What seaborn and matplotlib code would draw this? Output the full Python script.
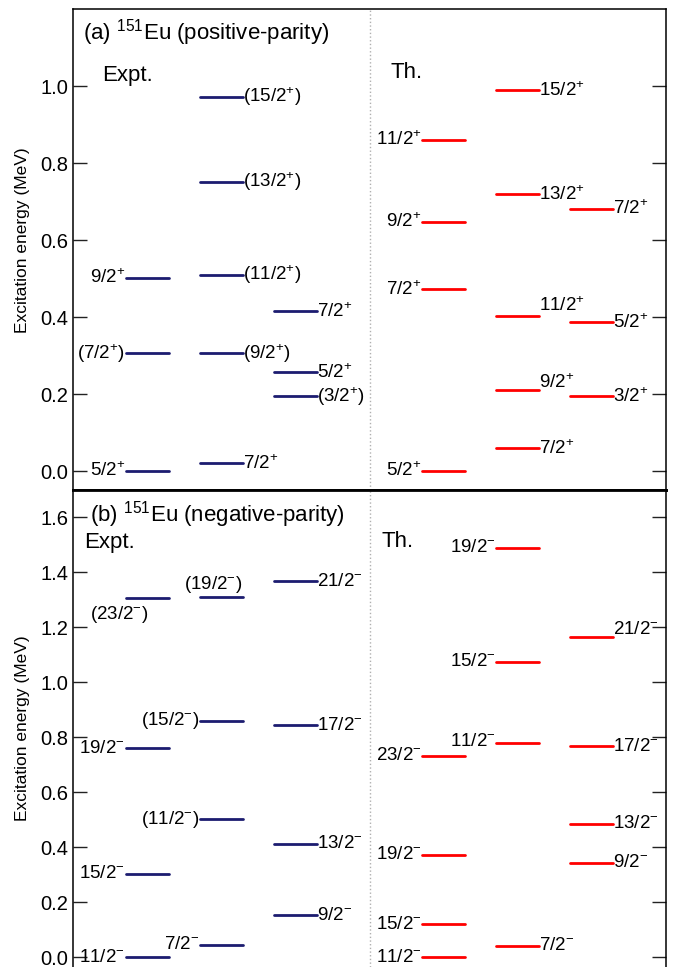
import numpy as np
import pandas as pd
import matplotlib
matplotlib.use("Agg")
import matplotlib.pyplot as plt
import seaborn as sns

# ---------------- data ----------------
# (a) positive parity
a_expt_c1_E = [0.000, 0.306, 0.502]
a_expt_c1_J = ["5/2+", "(7/2+)", "9/2+"]
a_expt_c2_E = [0.020, 0.306, 0.510, 0.751, 0.972]
a_expt_c2_J = ["7/2+", "(9/2+)", "(11/2+)", "(13/2+)", "(15/2+)"]
a_expt_c3_E = [0.194, 0.257, 0.415]
a_expt_c3_J = ["(3/2+)", "5/2+", "7/2+"]
a_th_c1_E = [0.000, 0.472, 0.647, 0.861]
a_th_c1_J = ["5/2+", "7/2+", "9/2+", "11/2+"]
a_th_c2_E = [0.059, 0.210, 0.403, 0.719, 0.989]
a_th_c2_J = ["7/2+", "9/2+", "11/2+", "13/2+", "15/2+"]
a_th_c3_E = [0.194, 0.386, 0.681]
a_th_c3_J = ["3/2+", "5/2+", "7/2+"]

# (b) negative parity
b_expt_c1_E = [0.000, 0.304, 0.760, 1.308]
b_expt_c1_J = ["11/2-", "15/2-", "19/2-", "(23/2-)"]
b_expt_c2_E = [0.045, 0.502, 0.861, 1.309]
b_expt_c2_J = ["7/2-", "(11/2-)", "(15/2-)", "(19/2-)"]
b_expt_c3_E = [0.153, 0.413, 0.844, 1.367]
b_expt_c3_J = ["9/2-", "13/2-", "17/2-", "21/2-"]
b_th_c1_E = [0.000, 0.119, 0.372, 0.732]
b_th_c1_J = ["11/2-", "15/2-", "19/2-", "23/2-"]
b_th_c2_E = [0.041, 0.778, 1.075, 1.490]
b_th_c2_J = ["7/2-", "11/2-", "15/2-", "19/2-"]
b_th_c3_E = [0.343, 0.485, 0.768, 1.166]
b_th_c3_J = ["9/2-", "13/2-", "17/2-", "21/2-"]

a_yticks = [0.0, 0.2, 0.4, 0.6, 0.8, 1.0]
b_yticks = [0.0, 0.2, 0.4, 0.6, 0.8, 1.0, 1.2, 1.4, 1.6]

# ---------------- layout ----------------
COLPOS = {"c1": 1, "c2": 2, "c3": 3}
TH_SHIFT = 4
HALF = 0.29
NAVY = "#1c1c70"
RED = "#ff0000"

SIDE = {
    ("a", "Expt.", "c1"): "L", ("a", "Expt.", "c2"): "R", ("a", "Expt.", "c3"): "R",
    ("a", "Th.", "c1"): "L", ("a", "Th.", "c2"): "R", ("a", "Th.", "c3"): "R",
    ("b", "Expt.", "c1"): "L", ("b", "Expt.", "c2"): "L", ("b", "Expt.", "c3"): "R",
    ("b", "Th.", "c1"): "L", ("b", "Th.", "c2"): "L", ("b", "Th.", "c3"): "R",
}
SPECIAL = {
    ("b", "Expt.", "c1", "(23/2-)"): ("LL", -36, -17),
    ("b", "Expt.", "c2", "(19/2-)"): ("LL", -16, 13),
    ("b", "Th.", "c2", "7/2-"): ("R", 0, 0),
    ("b", "Th.", "c2", "11/2-"): ("L", 0, 2),
    ("b", "Th.", "c3", "21/2-"): ("R", 0, 7),
    ("a", "Th.", "c2", "11/2+"): ("R", 0, 10),
    ("a", "Th.", "c2", "9/2+"): ("R", 0, 8),
}

panels = {
    "a": {
        ("Expt.", "c1"): (a_expt_c1_E, a_expt_c1_J),
        ("Expt.", "c2"): (a_expt_c2_E, a_expt_c2_J),
        ("Expt.", "c3"): (a_expt_c3_E, a_expt_c3_J),
        ("Th.", "c1"): (a_th_c1_E, a_th_c1_J),
        ("Th.", "c2"): (a_th_c2_E, a_th_c2_J),
        ("Th.", "c3"): (a_th_c3_E, a_th_c3_J),
    },
    "b": {
        ("Expt.", "c1"): (b_expt_c1_E, b_expt_c1_J),
        ("Expt.", "c2"): (b_expt_c2_E, b_expt_c2_J),
        ("Expt.", "c3"): (b_expt_c3_E, b_expt_c3_J),
        ("Th.", "c1"): (b_th_c1_E, b_th_c1_J),
        ("Th.", "c2"): (b_th_c2_E, b_th_c2_J),
        ("Th.", "c3"): (b_th_c3_E, b_th_c3_J),
    },
}


def fmt(j):
    if j.endswith(")") and j[-2] in "+-":
        return j[:-2] + "$^{" + j[-2] + "}$)"
    if j[-1] in "+-":
        return j[:-1] + "$^{" + j[-1] + "}$"
    return j


sns.set_theme(style="ticks")
plt.rcParams["font.family"] = ["Liberation Sans", "DejaVu Sans"]
plt.rcParams["mathtext.fontset"] = "custom"
plt.rcParams["mathtext.rm"] = "Liberation Sans"
plt.rcParams["mathtext.it"] = "Liberation Sans:italic"
plt.rcParams["mathtext.bf"] = "Liberation Sans:bold"
plt.rcParams["mathtext.default"] = "regular"
plt.rcParams["text.color"] = "black"
plt.rcParams["axes.labelcolor"] = "black"
plt.rcParams["ytick.color"] = "black"
plt.rcParams["ytick.labelcolor"] = "black"

DPI = 100
fig = plt.figure(figsize=(6.83, 9.67), dpi=DPI)
L, R = 73 / 683, 666 / 683
ax_a = fig.add_axes([L, 1 - 490 / 967, R - L, (490 - 9) / 967])
ax_b = fig.add_axes([L, 0.0, R - L, (967 - 490) / 967])

ylims = {"a": (-0.049, 1.2), "b": (-0.036, 1.700)}
yticks = {"a": a_yticks, "b": b_yticks}
titles = {"a": r"(a) $^{151}$Eu (positive-parity)", "b": r"(b) $^{151}$Eu (negative-parity)"}
title_pos = {"a": (0.017, 0.950), "b": (0.029, 0.948)}
expt_pos = {"a": (0.049, 0.861), "b": (0.0185, 0.889)}
th_pos = {"a": (0.535, 0.869), "b": (0.521, 0.891)}
ylabel_y = {"a": 0.52, "b": 0.50}

PX = 72.0 / DPI
LFS = 13.5

for key, ax in (("a", ax_a), ("b", ax_b)):
    rows = []
    lid = 0
    for (kind, col), (Es, Js) in panels[key].items():
        xc = COLPOS[col] + (TH_SHIFT if kind == "Th." else 0)
        for E in Es:
            rows.append({"x": xc - HALF, "E": E, "kind": kind, "id": lid})
            rows.append({"x": xc + HALF, "E": E, "kind": kind, "id": lid})
            lid += 1
    df = pd.DataFrame(rows)
    sns.lineplot(data=df, x="x", y="E", units="id", estimator=None, hue="kind",
                 palette={"Expt.": NAVY, "Th.": RED}, legend=False, lw=2.0,
                 sort=False, ax=ax)

    for (kind, col), (Es, Js) in panels[key].items():
        xc = COLPOS[col] + (TH_SHIFT if kind == "Th." else 0)
        for E, J in zip(Es, Js):
            side = SIDE[(key, kind, col)]
            dx, dy = 0, 0
            sp = SPECIAL.get((key, kind, col, J))
            if sp:
                side, dx, dy = sp
            if side == "L":
                ax.annotate(fmt(J), (xc - HALF, E), xytext=(dx * PX - 0.5, dy * PX),
                            textcoords="offset points", ha="right", va="center",
                            fontsize=LFS, color="black")
            elif side == "LL":
                ax.annotate(fmt(J), (xc - HALF, E), xytext=(dx * PX, dy * PX),
                            textcoords="offset points", ha="left", va="center",
                            fontsize=LFS, color="black")
            else:
                ax.annotate(fmt(J), (xc + HALF, E), xytext=(dx * PX, dy * PX),
                            textcoords="offset points", ha="left", va="center",
                            fontsize=LFS, color="black")

    ax.axvline(4, color="#b0b0b0", lw=1.0, ls=":", zorder=0)
    ax.set_xlim(0, 8)
    ax.set_ylim(*ylims[key])
    ax.set_xticks([])
    ax.set_yticks(yticks[key])
    ax.set_yticklabels([f"{t:.1f}" for t in yticks[key]])
    ax.tick_params(axis="y", direction="in", length=10, width=1.0, labelsize=14.5,
                   right=True, left=True, pad=3.5, color="#222222")
    ax.set_xlabel("")
    ax.set_ylabel("Excitation energy (MeV)", fontsize=12.5)
    ax.yaxis.set_label_coords(-0.072, ylabel_y[key])
    for s in ax.spines.values():
        s.set_linewidth(1.1)
        s.set_color("black")
    ax.text(*title_pos[key], titles[key], transform=ax.transAxes, fontsize=16,
            ha="left", va="center")
    ax.text(*expt_pos[key], "Expt.", transform=ax.transAxes, fontsize=16,
            ha="left", va="center")
    ax.text(*th_pos[key], "Th.", transform=ax.transAxes, fontsize=16,
            ha="left", va="center")

ax_a.spines["bottom"].set_linewidth(2.0)
ax_b.spines["top"].set_linewidth(2.0)
ax_b.spines["bottom"].set_visible(False)

fig.savefig("out.png", dpi=DPI)
